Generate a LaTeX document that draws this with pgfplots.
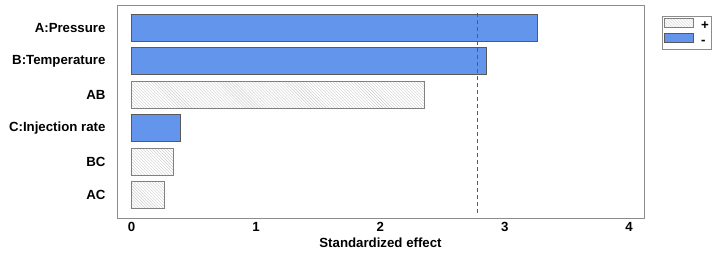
\documentclass[border=0pt]{standalone}
\usepackage{fontspec}
\setmainfont{Liberation Sans}
\usepackage{pgfplots}
\pgfplotsset{compat=1.18}
\usetikzlibrary{patterns}
\definecolor{barblue}{RGB}{100,149,237}
\definecolor{framegray}{RGB}{140,140,140}
\definecolor{refblue}{RGB}{50,80,255}
\begin{document}
\begin{tikzpicture}[x=1bp,y=1bp]
\begin{axis}[
  scale only axis,
  width=527bp, height=213bp,
  at={(0bp,0bp)}, anchor=south west,
  xmin=-0.118, xmax=4.12,
  ymin=0.32, ymax=6.68,
  xtick={0,1,2,3,4},
  ytick={1,2,3,4,5,6},
  yticklabels={AC,BC,C:Injection rate,AB,B:Temperature,A:Pressure},
  major tick length=0pt,
  axis line style={framegray, line width=0.9pt},
  tick label style={font=\fontsize{13.3}{15}\selectfont\bfseries},
  /pgf/number format/assume math mode=true,
  xticklabel style={yshift=-1bp},
  yticklabel style={xshift=-8bp},
  xlabel={Standardized effect},
  xlabel style={font=\fontsize{13.3}{15}\selectfont\bfseries, yshift=1bp},
  bar shift=0pt, bar width=27bp,
  reverse legend,
  legend style={at={(1.0342,0.947)}, anchor=north west, draw=framegray, line width=0.9pt,
    font=\fontsize{13.3}{15}\selectfont\bfseries, inner sep=1.5bp, row sep=0bp,
    nodes={inner sep=1.5bp, text height=9bp, text depth=2.5bp}},
  legend cell align=left,
  legend image code/.code={\draw[#1] (0bp,-1bp) rectangle (29bp,7.5bp);},
]
\addplot[xbar, draw=black!65, line width=0.7pt, fill=barblue]
  coordinates {(3.26,6) (2.85,5) (0.394,3)};
\addlegendentry{\hspace{6bp}-}
\addplot[xbar, draw=gray, line width=0.7pt, pattern=north west lines, pattern color=gray!40]
  coordinates {(2.35,4) (0.335,2) (0.26,1)};
\addlegendentry{\hspace{6bp}+\hspace{3bp}}
\draw[draw=refblue, line width=1bp, dash pattern=on 4bp off 3bp]
  (axis cs:2.78,0.47) -- (axis cs:2.78,6.47);
\end{axis}
\pgfresetboundingbox
\useasboundingbox (-117bp,-39bp) rectangle (604bp,218bp);
\end{tikzpicture}
\end{document}
